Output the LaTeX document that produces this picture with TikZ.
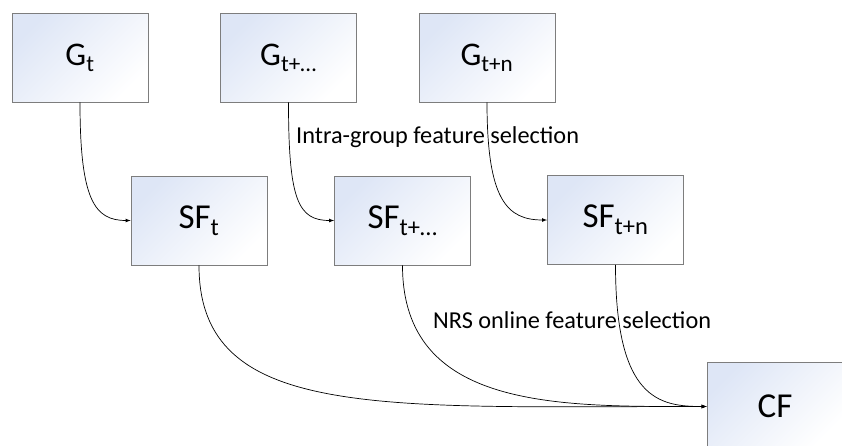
\documentclass[tikz,border=0pt]{standalone}
\usepackage{fontspec}
\setmainfont{Carlito}
\definecolor{boxblue}{RGB}{222,230,246}
\definecolor{boxline}{RGB}{125,125,125}
\tikzset{
  box/.style={draw=boxline, line width=0.8pt, top color=boxblue, bottom color=white,
    shading angle=45, minimum width=136pt, minimum height=89pt, inner sep=0pt},
  gfont/.style={font=\fontsize{33}{38}\selectfont},
  sffont/.style={font=\fontsize{35}{40}\selectfont},
  steplabel/.style={anchor=west, inner sep=0pt, font=\fontsize{24.3}{28}\selectfont},
  flow/.style={-latex, line width=0.7pt}
}
\begin{document}
\begin{tikzpicture}[x=1pt, y=-1pt]
\useasboundingbox (0,0) rectangle (842,445);
%groups
\node[box, gfont] (gt) at (80, 57.5) {G\textsubscript{t}};
\node[box, gfont] (gtdots) at (288.5, 57.5) {G\textsubscript{t+…}};
\node[box, gfont] (gtn) at (487, 57.5) {G\textsubscript{t+n}};
%selected features
\node[box, sffont] (sft) at (199, 220.5) {SF\textsubscript{t}};
\node[box, sffont] (sfdots) at (402.5, 220.5) {SF\textsubscript{t+…}};
\node[box, sffont] (sftn) at (615.5, 220) {SF\textsubscript{t+n}};
\node[box, sffont] (cf) at (775, 406.5) {CF};
%labels
\node[steplabel] (intra) at (296, 137) {Intra-group feature selection};
\node[steplabel] (nrs) at (433, 320) {NRS online feature selection};

%intra-group arrows
\draw[flow] (gt.south) .. controls +(0,98) and +(-36,0) .. (sft.west);
\draw[flow] (gtdots.south) .. controls +(0,98) and +(-36,0) .. (sfdots.west);
\draw[flow] (gtn.south) .. controls +(0,98) and +(-40,0) .. (sftn.west);
%online arrows
\draw[flow] (sft.south) .. controls +(0,155) and +(-327,0) .. (cf.west);
\draw[flow] (sfdots.south) .. controls +(0,145) and +(-147,0) .. (cf.west);
\draw[flow] (sftn.south) .. controls +(0,135) and +(-47,0) .. (cf.west);
\end{tikzpicture}
\end{document}
